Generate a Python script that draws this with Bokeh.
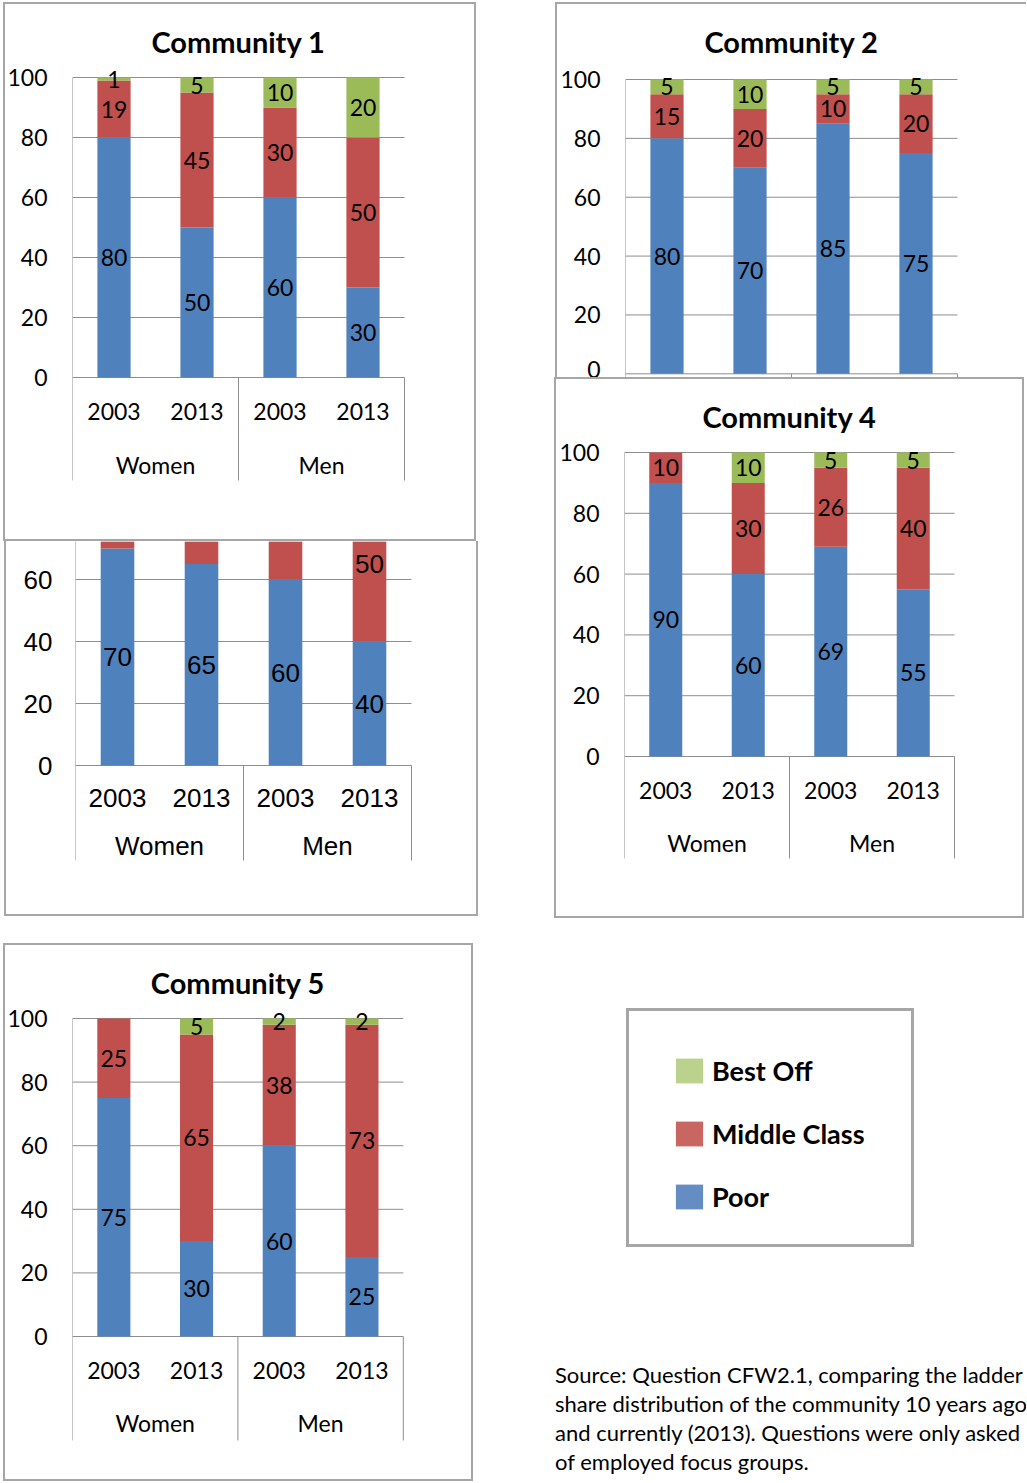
import numpy as np
from bokeh.plotting import figure
from bokeh.models import Range1d, FixedTicker, ColumnDataSource, Spacer, Div, Legend, LegendItem
from bokeh.layouts import row, column
from bokeh.core.properties import value
from bokeh.embed import file_html
from bokeh.resources import INLINE

# ---------------- data ----------------
GROUPS = ["Women", "Men"]
YEARS = ["2003", "2013"]
SERIES = ["Poor", "Middle Class", "Best Off"]
Y_TICKS = [0, 20, 40, 60, 80, 100]

C1_POOR = [80, 50, 60, 30]
C1_MIDDLE = [19, 45, 30, 50]
C1_BEST = [1, 5, 10, 20]

C2_POOR = [80, 70, 85, 75]
C2_MIDDLE = [15, 20, 10, 20]
C2_BEST = [5, 10, 5, 5]

# Community 3: upper part hidden behind Community 1 (hidden values estimated)
C3_POOR = [70, 65, 60, 40]
C3_MIDDLE = [25, 30, 35, 50]
C3_BEST = [5, 5, 5, 10]

C4_POOR = [90, 60, 69, 55]
C4_MIDDLE = [10, 30, 26, 40]
C4_BEST = [0, 10, 5, 5]

C5_POOR = [75, 30, 60, 25]
C5_MIDDLE = [25, 65, 38, 73]
C5_BEST = [0, 5, 2, 2]

SOURCE_LINES = [
    "Source: Question CFW2.1, comparing the ladder",
    "share distribution of the community 10 years ago",
    "and currently (2013). Questions were only asked",
    "of employed focus groups.",
]

# ---------------- style ----------------
BAR_COLORS = ["#4F81BD", "#C0504D", "#9BBB59"]
LEGEND_COLORS = ["#658DC4", "#C86662", "#BBD18E"]
GRID = "#8E8E8E"
PANEL = "#A6A6A6"
CAL = "Lato"
ARIAL = "Liberation Sans"

FULL_BOX = {"outline": f"2px solid {PANEL}", "outline-offset": "-2px"}


def chart(title, poor, middle, best, w, h, frame_left, zero_y, k, step,
          font, fs, title_fs, year_dy, group_dy, sep_dy, standoff, css):
    n = len(poor)
    y_lo = -(h - zero_y) / k
    y_hi = zero_y / k
    half = 0.6 * fs / k  # half text height in data units

    def visible(y):
        return (y - half) >= y_lo and (y + half) <= y_hi

    p = figure(width=w, height=h,
               x_range=Range1d(0, (w - frame_left) / step),
               y_range=Range1d(y_lo, y_hi),
               output_backend="svg", toolbar_location=None,
               x_axis_location=None, min_border=0, min_border_left=frame_left,
               background_fill_color=None, border_fill_color=None,
               outline_line_color=None, styles=css)
    p.grid.visible = False
    ax = p.yaxis[0]
    ax.ticker = FixedTicker(ticks=Y_TICKS)
    ax.bounds = (Y_TICKS[0], Y_TICKS[-1])
    ax.axis_line_color = None
    ax.major_tick_line_color = None
    ax.minor_tick_line_color = None
    ax.major_tick_out = 0
    ax.major_tick_in = 0
    ax.major_label_standoff = standoff
    ax.major_label_text_font = font
    ax.major_label_text_font_size = f"{fs}px"
    ax.major_label_text_color = "black"

    xs = np.arange(n) + 0.5
    top = Y_TICKS[-1]
    bottom = -sep_dy / k
    # gridlines
    p.segment(x0=[0] * len(Y_TICKS), x1=[n] * len(Y_TICKS), y0=Y_TICKS, y1=Y_TICKS,
              line_color=GRID, line_width=1)
    # category separators
    bx = [i * len(YEARS) for i in range(len(GROUPS) + 1)]
    p.segment(x0=bx, x1=bx, y0=[bottom] * len(bx), y1=[top] + [0] * (len(bx) - 1),
              line_color=GRID, line_width=1)

    src = ColumnDataSource(dict(x=xs, poor=poor, middle=middle, best=best))
    p.vbar_stack(["poor", "middle", "best"], x="x", width=0.4,
                 fill_color=BAR_COLORS, line_color=None, source=src)

    txt = dict(text_align="center", text_baseline="middle",
               text_font=value(font), text_font_size=f"{fs}px", text_color="black")

    vals = np.array([poor, middle, best], dtype=float)
    centers = np.cumsum(vals, axis=0) - vals / 2
    lx, ly, lt = [], [], []
    for s in range(vals.shape[0]):
        for i in range(n):
            if vals[s, i] > 0 and visible(centers[s, i]):
                lx.append(xs[i]); ly.append(centers[s, i]); lt.append(str(int(vals[s, i])))
    if lt:
        p.text(x=lx, y=ly, text=lt, **txt)

    year_labels = list(YEARS) * len(GROUPS)
    if visible(-year_dy / k):
        p.text(x=xs, y=[-year_dy / k] * n, text=year_labels, **txt)
    if visible(-group_dy / k):
        p.text(x=[len(YEARS) * (i + 0.5) for i in range(len(GROUPS))],
               y=[-group_dy / k] * len(GROUPS), text=GROUPS, **txt)
    if title:
        t = dict(txt)
        t["text_font_size"] = f"{title_fs}px"
        p.text(x=[n / 2], y=[(zero_y - 39) / k], text=[title],
               text_font_style="bold", **t)
    return p


c1 = chart("Community 1", C1_POOR, C1_MIDDLE, C1_BEST, 473, 539, 69, 375, 3.0, 83,
           CAL, 23, 29, 34, 87, 103, 25, FULL_BOX)
c2 = chart("Community 2", C2_POOR, C2_MIDDLE, C2_BEST, 471, 375, 70, 371.3, 2.943, 83,
           CAL, 23, 29, 34, 87, 103, 25, {"box-shadow": f"inset 2px 2px 0 0 {PANEL}"})
c3 = chart(None, C3_POOR, C3_MIDDLE, C3_BEST, 474, 375, 71, 224, 3.1, 84,
           ARIAL, 26, 29, 32, 80, 95, 23,
           {"box-shadow": f"inset 2px 0 0 0 {PANEL}, inset -2px -2px 0 0 {PANEL}"})
c4 = chart("Community 4", C4_POOR, C4_MIDDLE, C4_BEST, 470, 541, 70, 379, 3.04, 82.5,
           CAL, 23, 29, 34, 86, 102, 25, FULL_BOX)
c5 = chart("Community 5", C5_POOR, C5_MIDDLE, C5_BEST, 470, 538, 69, 393, 3.18, 82.7,
           CAL, 23, 29, 34, 86, 104, 25, FULL_BOX)

# ---------------- legend panel ----------------
lg = figure(width=288, height=239, x_range=Range1d(0, 1), y_range=Range1d(0, 1),
            output_backend="svg", toolbar_location=None,
            x_axis_location=None, y_axis_location=None, min_border=0,
            outline_line_color=None, background_fill_color=None, border_fill_color=None,
            styles={"outline": f"3px solid {PANEL}", "outline-offset": "-3px"})
lg.grid.visible = False
# legend-only renderers: their single bar lies outside the visible range
rends = [lg.vbar(x=[5], top=[5], bottom=[4], width=0.1, fill_color=c, line_color=None)
         for c in LEGEND_COLORS]
items = [LegendItem(label=s, renderers=[r]) for s, r in zip(SERIES, rends)][::-1]
leg = Legend(items=items, location="top_left", margin=46, padding=0, spacing=30,
             glyph_width=34, glyph_height=31, label_standoff=6,
             label_text_font=CAL, label_text_font_size="27px", label_text_font_style="bold",
             label_text_color="black",
             border_line_color=None, background_fill_alpha=0)
lg.add_layout(leg)

# ---------------- source note ----------------
src_div = Div(text=("<div style='font-family:Lato;font-size:22px;line-height:29px;"
                    "white-space:nowrap;color:#000;overflow:hidden;width:471px'>"
                    + "<br>".join(SOURCE_LINES) + "</div>"),
              width=471, height=120, margin=0, styles={"overflow": "hidden"})

left = column(Spacer(height=2), row(Spacer(width=3), c1), row(Spacer(width=4), c3),
              Spacer(height=27), row(Spacer(width=3), c5))
right = column(Spacer(height=2), row(Spacer(width=1), c2), c4, Spacer(height=90),
               row(Spacer(width=72), lg), Spacer(height=113), row(Spacer(width=1), src_div))
root = row(left, Spacer(width=76), right)

open("out.html", "w").write(file_html(root, INLINE))
